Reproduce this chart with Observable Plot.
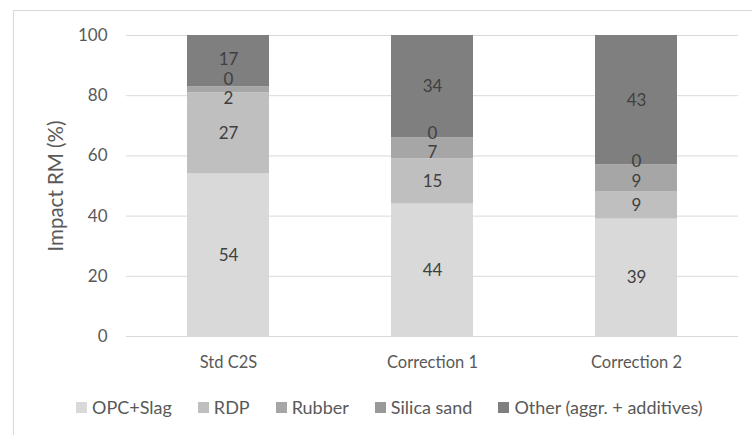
<!DOCTYPE html>
<html>
<head>
<meta charset="utf-8">
<script src="https://cdn.jsdelivr.net/npm/d3@7"></script>
<script src="https://cdn.jsdelivr.net/npm/@observablehq/plot@0.6"></script>
<style>
  html, body { margin: 0; padding: 0; background: #fff; }
  #chart { position: relative; width: 752px; height: 435px; overflow: hidden; font-family: Lato, "Open Sans", sans-serif; }
  #frame { position: absolute; left: 13px; top: 10px; width: 760px; height: 440px; border: 1px solid #d9d9d9; pointer-events: none; }
  #legend { position: absolute; left: 76px; top: 396px; display: flex; align-items: center; font-size: 18px; line-height: 22px; color: #595959; white-space: nowrap; }
  #legend .item { display: flex; align-items: center; margin-right: 26px; }
  #legend .sw { width: 11px; height: 11px; margin-right: 5px; }
  svg { position: absolute; left: 0; top: 0; }
</style>
</head>
<body>
<div id="chart"><div id="frame"></div><div id="legend"></div></div>
<script>
// Mixes compared
const mixes = ["Std C2S", "Correction 1", "Correction 2"];
// Raw-material components, bottom to top of each stack
const components = ["OPC+Slag", "RDP", "Rubber", "Silica sand", "Other (aggr. + additives)"];
// Share of impact (%) per component, one array per mix
const stdC2S = [54, 27, 2, 0, 17];
const correction1 = [44, 15, 7, 0, 34];
const correction2 = [39, 9, 9, 0, 43];
const yTicks = [0, 20, 40, 60, 80, 100];
const yTitle = "Impact RM (%)";
const greys = ["#d9d9d9", "#bfbfbf", "#a6a6a6", "#999999", "#7f7f7f"];

const series = [stdC2S, correction1, correction2];
const rows = [];
const labels = [];
mixes.forEach((mix, i) => {
  let base = 0;
  const ls = [];
  components.forEach((c, j) => {
    const v = series[i][j];
    rows.push({mix, component: c, value: v});
    ls.push({mix, component: c, value: v, pos: base + v / 2});
    base += v;
  });
  // spread value labels apart where thin segments would make them collide
  const gap = 6.6;
  for (let pass = 0; pass < 6; pass++) {
    for (let k = 1; k < ls.length; k++) {
      const d = ls[k].pos - ls[k - 1].pos;
      if (d < gap) {
        const shift = (gap - d) / 2;
        ls[k].pos += shift;
        ls[k - 1].pos -= shift;
      }
    }
  }
  labels.push(...ls);
});

const plot = Plot.plot({
  width: 752,
  height: 380,
  marginTop: 35,
  marginBottom: 44,
  marginLeft: 126,
  marginRight: 14,
  style: {fontSize: "17px", fontFamily: "Lato, 'Open Sans', sans-serif", color: "#595959", background: "transparent"},
  x: {domain: mixes, paddingInner: 0.6, paddingOuter: 0.3, label: null},
  y: {domain: [0, 100], label: null},
  color: {domain: components, range: greys},
  marks: [
    Plot.gridY(yTicks, {stroke: "#d9d9d9", strokeOpacity: 1, strokeWidth: 1}),
    Plot.barY(rows, {x: "mix", y: "value", fill: "component", order: components, inset: 0}),
    Plot.text(labels, {x: "mix", y: "pos", text: d => String(d.value), fill: "#404040", fontSize: 17}),
    Plot.axisY(yTicks, {tickSize: 0, tickPadding: 19, label: null, fill: "#595959", fontSize: 17}),
    Plot.axisX({tickSize: 0, tickPadding: 20, label: null, fill: "#595959", fontSize: 16.5}),
    Plot.text([yTitle], {frameAnchor: "left", rotate: -90, dx: -70, textAnchor: "middle", lineAnchor: "middle", fill: "#595959", fontSize: 20.5})
  ]
});
document.getElementById("chart").appendChild(plot);

const color = plot.scale("color");
const legend = document.getElementById("legend");
color.domain.forEach((c, i) => {
  const item = document.createElement("div");
  item.className = "item";
  const sw = document.createElement("div");
  sw.className = "sw";
  sw.style.background = color.range[i];
  const t = document.createElement("span");
  t.textContent = c;
  item.appendChild(sw);
  item.appendChild(t);
  legend.appendChild(item);
});
</script>
</body>
</html>
